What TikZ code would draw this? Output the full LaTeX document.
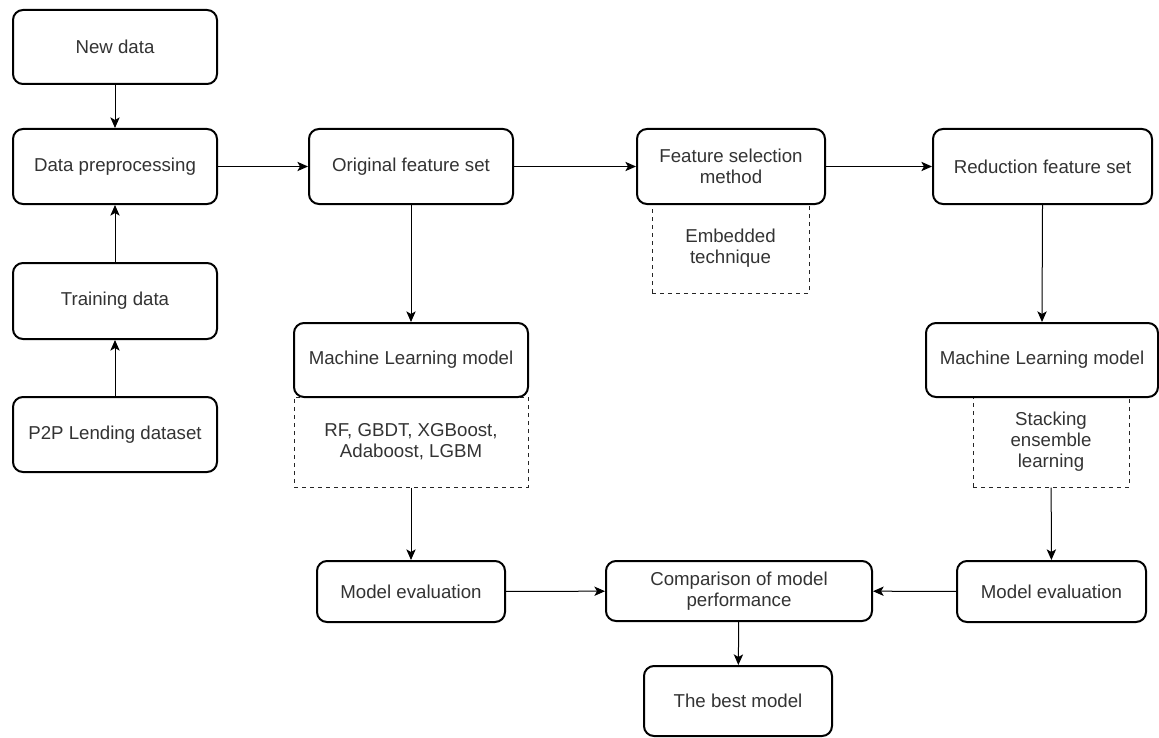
\documentclass[tikz,border=0pt]{standalone}
\usepackage{fontspec}
\setmainfont{Liberation Sans}
\usetikzlibrary{arrows.meta}
\begin{document}
\begin{tikzpicture}[x=0.75pt,y=0.75pt,yscale=-1,xscale=1,
  procbox/.style={draw=black, line width=1.5pt, rounded corners=7.5pt, fill=white, align=center, inner sep=0.75pt, text=black!80, font=\fontsize{14pt}{15.75pt}\selectfont},
  notebox/.style={draw=black!85, line width=0.75pt, dashed, align=center, inner sep=0.75pt, text=black!80, font=\fontsize{14pt}{15.75pt}\selectfont},
  flow/.style={draw=black, line width=0.75pt, -{Stealth[length=8pt,width=7pt,inset=2pt]}}]
\useasboundingbox (0,0) rectangle (1159,738);

%Shape: Dashed Rect [id:notes]
\node [notebox, minimum width=117.75pt, minimum height=66.75pt] (embed) at (730.5,248.5) {Embedded\\technique};
\node [notebox, minimum width=175.5pt, minimum height=67.5pt] (algos) at (411,442) {RF, GBDT, XGBoost,\\Adaboost, LGBM};
\node [notebox, minimum width=117pt, minimum height=67.5pt] (stack) at (1051,442) {Stacking\\ensemble\\learning};

%Shape: Rounded Rect [id:left column]
\node [procbox, minimum width=153pt, minimum height=55.5pt] (newdata) at (115,47) {New data};
\node [procbox, minimum width=153pt, minimum height=56.25pt] (preproc) at (115,166.5) {Data preprocessing};
\node [procbox, minimum width=153pt, minimum height=57pt] (train) at (115,301) {Training data};
\node [procbox, minimum width=153pt, minimum height=56.25pt] (p2p) at (115,434.5) {P2P Lending dataset};

%Shape: Rounded Rect [id:top row]
\node [procbox, minimum width=153pt, minimum height=56.25pt] (origset) at (411,166.5) {Original feature set};
\node [procbox, minimum width=141pt, minimum height=56.25pt] (fsel) at (731,166.5) {Feature selection\\method};
\node [procbox, minimum width=164.25pt, minimum height=56.25pt] (redset) at (1042.5,166.5) {Reduction feature set};

%Shape: Rounded Rect [id:models]
\node [procbox, minimum width=175.5pt, minimum height=55.5pt] (mlleft) at (411,360) {Machine Learning model};
\node [procbox, minimum width=174pt, minimum height=55.5pt] (mlright) at (1042,360) {Machine Learning model};

%Shape: Rounded Rect [id:bottom row]
\node [procbox, minimum width=141pt, minimum height=45.75pt] (evalleft) at (411,591.5) {Model evaluation};
\node [procbox, minimum width=199.5pt, minimum height=45pt] (compare) at (739,591) {Comparison of model\\performance};
\node [procbox, minimum width=141.75pt, minimum height=45.75pt] (evalright) at (1051.5,591.5) {Model evaluation};
\node [procbox, minimum width=141pt, minimum height=52.5pt] (best) at (738,701) {The best model};

%Straight Lines [id:arrows]
\draw [flow] (newdata) -- (preproc);
\draw [flow] (train) -- (preproc);
\draw [flow] (p2p) -- (train);
\draw [flow] (preproc) -- (origset);
\draw [flow] (origset) -- (fsel);
\draw [flow] (fsel) -- (redset);
\draw [flow] (origset) -- (mlleft);
\draw [flow] (redset.south) -- (mlright.north);
\draw [flow] (algos) -- (evalleft);
\draw [flow] (stack) -- (evalright);
\draw [flow] (evalleft) -- (compare);
\draw [flow] (evalright) -- (compare);
\draw [flow] (compare) -- (best);

\end{tikzpicture}
\end{document}
